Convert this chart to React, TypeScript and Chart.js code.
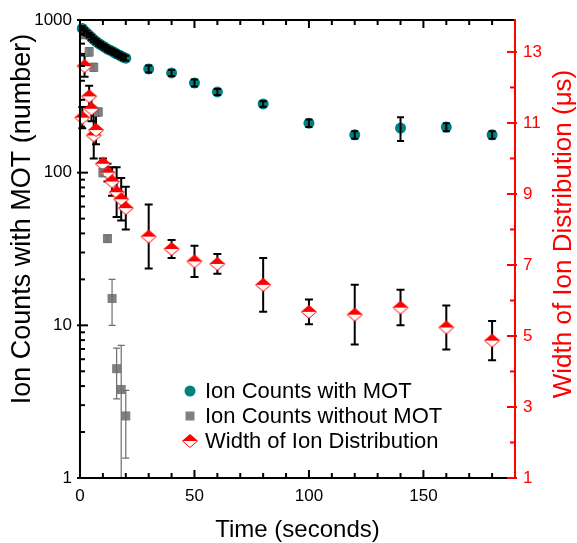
import React, { useEffect, useRef } from 'react';
import { Chart, registerables } from 'chart.js';

Chart.register(...registerables);

// ---------- data ----------
const motTimes = [1, 2, 3, 4, 5, 6, 7, 8, 9, 10, 11, 12, 13, 14, 15, 16, 17, 18, 19, 20, 30, 40, 50, 60, 80, 100, 120, 140, 160, 180];
const motCounts = [880, 850, 820, 795, 770, 745, 725, 705, 690, 675, 660, 645, 635, 625, 612, 600, 590, 580, 570, 562, 478, 450, 387, 338, 282, 211, 177, 196, 199, 177];
const motErrors = [30, 30, 30, 28, 28, 27, 27, 26, 26, 25, 25, 24, 24, 24, 23, 23, 22, 22, 22, 22, 25, 20, 20, 15, 12, 12, 10, 35, 12, 10];

const noMotTimes = [2, 4, 6, 8, 10, 12, 14, 16, 18, 20];
const noMotCounts = [800, 620, 490, 250, 100, 37, 15, 5.2, 3.8, 2.55];
const noMotErrors = [40, 40, 30, 15, 6, 2, 5, 1.9, 3.6, 1.2];

const widthTimes = [1, 2, 4, 5, 6, 7, 10, 12, 14, 16, 18, 20, 30, 40, 50, 60, 80, 100, 120, 140, 160, 180];
const widthValues = [11.15, 12.6, 11.75, 11.4, 10.65, 10.8, 9.85, 9.6, 9.35, 9.05, 8.85, 8.6, 7.8, 7.45, 7.1, 7.03, 6.44, 5.68, 5.6, 5.8, 5.24, 4.87];
const widthErrors = [0.3, 0.3, 0.3, 0.35, 0.65, 0.4, 0.15, 0.25, 0.4, 0.7, 0.6, 0.6, 0.9, 0.25, 0.44, 0.28, 0.76, 0.35, 0.84, 0.5, 0.62, 0.55];

const xTickLabels = ['0', '50', '100', '150'];
const leftTickLabels = ['1', '10', '100', '1000'];
const rightTickLabels = ['1', '3', '5', '7', '9', '11', '13'];

const legendLabels = ['Ion Counts with MOT', 'Ion Counts without MOT', 'Width of Ion Distribution'];
const leftTitle = 'Ion Counts with MOT (number)';
const rightTitle = 'Width of Ion Distribution (\u03bcs)';

const TEAL = '#008080';
const GREY = '#808080';
const RED = '#ff0000';
const FONT = 'Arial, "Liberation Sans", sans-serif';

function diamondPath(ctx: CanvasRenderingContext2D, cx: number, cy: number, hw: number, hh: number) {
  ctx.beginPath();
  ctx.moveTo(cx, cy - hh);
  ctx.lineTo(cx + hw, cy);
  ctx.lineTo(cx, cy + hh);
  ctx.lineTo(cx - hw, cy);
  ctx.closePath();
}

function drawDiamond(ctx: CanvasRenderingContext2D, cx: number, cy: number) {
  const hw = 7.5, hh = 6.5;
  ctx.save();
  ctx.fillStyle = '#ffffff';
  diamondPath(ctx, cx, cy, hw, hh);
  ctx.fill();
  ctx.fillStyle = RED;
  ctx.beginPath();
  ctx.moveTo(cx - hw, cy);
  ctx.lineTo(cx, cy - hh);
  ctx.lineTo(cx + hw, cy);
  ctx.closePath();
  ctx.fill();
  ctx.strokeStyle = RED;
  ctx.lineWidth = 1;
  diamondPath(ctx, cx, cy, hw, hh);
  ctx.stroke();
  ctx.restore();
}

function makeDiamondImage() {
  const c = document.createElement('canvas');
  c.width = 18;
  c.height = 16;
  const ctx = c.getContext('2d')!;
  drawDiamond(ctx, 9, 8);
  return c;
}

function drawErrorBars(chart: any, layer: string) {
  const ctx = chart.ctx as CanvasRenderingContext2D;
  const area = chart.chartArea;
  chart.data.datasets.forEach((ds: any, i: number) => {
    if (ds.errLayer !== layer) return;
    const meta = chart.getDatasetMeta(i);
    const yScale = chart.scales[ds.yAxisID];
    ctx.save();
    ctx.strokeStyle = ds.errColor;
    ctx.lineWidth = ds.errWidth;
    meta.data.forEach((pt: any, j: number) => {
      const v = ds.data[j].y;
      const e = ds.errors[j];
      const x = pt.x;
      const yTop = yScale.getPixelForValue(v + e);
      const lowVal = v - e;
      const capBottom = lowVal > yScale.min;
      const yBot = capBottom ? yScale.getPixelForValue(lowVal) : area.bottom;
      ctx.beginPath();
      ctx.moveTo(x, yTop);
      ctx.lineTo(x, yBot);
      ctx.moveTo(x - ds.capHalf, yTop);
      ctx.lineTo(x + ds.capHalf, yTop);
      if (capBottom) {
        ctx.moveTo(x - ds.capHalf, yBot);
        ctx.lineTo(x + ds.capHalf, yBot);
      }
      ctx.stroke();
    });
    ctx.restore();
  });
}

const errorBarPlugin = {
  id: 'errorBars',
  beforeDatasetsDraw(chart: any) {
    drawErrorBars(chart, 'below');
  },
  afterDatasetsDraw(chart: any) {
    drawErrorBars(chart, 'above');
  },
};

function drawRotated(ctx: CanvasRenderingContext2D, text: string, x: number, y: number, size: number, color: string) {
  ctx.save();
  ctx.fillStyle = color;
  ctx.font = `${size}px ${FONT}`;
  ctx.textAlign = 'center';
  ctx.textBaseline = 'middle';
  ctx.translate(x, y);
  ctx.rotate(-Math.PI / 2);
  ctx.fillText(text, 0, 0);
  ctx.restore();
}

const framePlugin = {
  id: 'frame',
  afterDraw(chart: any) {
    const ctx = chart.ctx as CanvasRenderingContext2D;
    const { left, right, top, bottom } = chart.chartArea;
    const xs = chart.scales.x;
    const yl = chart.scales.y;
    const yr = chart.scales.y2;
    ctx.save();
    ctx.lineCap = 'butt';
    ctx.strokeStyle = '#000';
    ctx.lineWidth = 2;
    for (let t = 0; t <= 190; t += 10) {
      const px = xs.getPixelForValue(t);
      const len = t % 50 === 0 ? 8 : 5;
      ctx.beginPath();
      ctx.moveTo(px, bottom);
      ctx.lineTo(px, bottom - len);
      ctx.moveTo(px, top);
      ctx.lineTo(px, top + len);
      ctx.stroke();
    }
    for (let d = 1; d <= 1000; d *= 10) {
      for (let m = 1; m <= 9; m++) {
        const v = d * m;
        if (v > 1000) break;
        const py = yl.getPixelForValue(v);
        const major = m === 1;
        ctx.beginPath();
        ctx.moveTo(left - (major ? 3 : 0), py);
        ctx.lineTo(left + (major ? 8 : 5), py);
        ctx.stroke();
      }
    }
    ctx.beginPath();
    ctx.moveTo(left, top);
    ctx.lineTo(left, bottom);
    ctx.moveTo(left - 1, bottom);
    ctx.lineTo(right, bottom);
    ctx.moveTo(left - 1, top);
    ctx.lineTo(right, top);
    ctx.stroke();
    ctx.strokeStyle = RED;
    for (let v = 1; v <= 13; v++) {
      const py = yr.getPixelForValue(v);
      const major = v % 2 === 1;
      ctx.beginPath();
      ctx.moveTo(right + (major ? 2 : 0), py);
      ctx.lineTo(right - (major ? 8 : 5), py);
      ctx.stroke();
    }
    ctx.beginPath();
    ctx.moveTo(right, top - 1);
    ctx.lineTo(right, bottom + 1);
    ctx.stroke();
    ctx.restore();

    drawRotated(ctx, leftTitle, 23, 219, 27, '#000');
    drawRotated(ctx, rightTitle, 564, 234, 26, RED);
  },
};

const legendPlugin = {
  id: 'customLegend',
  afterDraw(chart: any) {
    const ctx = chart.ctx as CanvasRenderingContext2D;
    const mx = 190;
    const tx = 205;
    const rows = [391, 416, 441];
    ctx.save();
    ctx.fillStyle = TEAL;
    ctx.beginPath();
    ctx.arc(mx, rows[0], 5.5, 0, Math.PI * 2);
    ctx.fill();
    ctx.fillStyle = GREY;
    ctx.fillRect(mx - 4.5, rows[1] - 4.5, 9, 9);
    drawDiamond(ctx, mx, rows[2]);
    ctx.fillStyle = '#000';
    ctx.font = `22px ${FONT}`;
    ctx.textBaseline = 'middle';
    ctx.textAlign = 'left';
    legendLabels.forEach((l, i) => ctx.fillText(l, tx, rows[i] + 1));
    ctx.restore();
  },
};

export default function App() {
  const ref = useRef<HTMLCanvasElement | null>(null);
  useEffect(() => {
    if (!ref.current) return;
    const diamondImg = makeDiamondImage();
    const chart = new Chart(ref.current, {
      type: 'scatter',
      data: {
        datasets: [
          {
            label: legendLabels[2],
            data: widthTimes.map((t, i) => ({ x: t, y: widthValues[i] })),
            yAxisID: 'y2',
            pointStyle: diamondImg as any,
            pointRadius: 8,
            backgroundColor: RED,
            borderColor: RED,
            clip: false as any,
            errors: widthErrors,
            errColor: '#000',
            errWidth: 2,
            capHalf: 4,
            errLayer: 'below',
            order: 1,
          } as any,
          {
            label: legendLabels[1],
            data: noMotTimes.map((t, i) => ({ x: t, y: noMotCounts[i] })),
            yAxisID: 'y',
            pointStyle: 'rect',
            pointRadius: 6.4,
            backgroundColor: GREY,
            borderColor: GREY,
            borderWidth: 0,
            clip: false as any,
            errors: noMotErrors,
            errColor: '#6e6e6e',
            errWidth: 1.2,
            capHalf: 3.5,
            errLayer: 'above',
            order: 2,
          } as any,
          {
            label: legendLabels[0],
            data: motTimes.map((t, i) => ({ x: t, y: motCounts[i] })),
            yAxisID: 'y',
            pointStyle: 'circle',
            pointRadius: 5.5,
            backgroundColor: TEAL,
            borderColor: TEAL,
            borderWidth: 0,
            clip: false as any,
            errors: motErrors,
            errColor: '#000',
            errWidth: 2,
            capHalf: 3.5,
            errLayer: 'above',
            order: 3,
          } as any,
        ],
      },
      options: {
        responsive: false,
        animation: false,
        events: [],
        layout: { padding: { top: 20, left: 0, right: 0, bottom: 0 } },
        plugins: { legend: { display: false }, tooltip: { enabled: false } },
        scales: {
          x: {
            type: 'linear',
            min: 0,
            max: 190,
            grid: { display: false, drawTicks: false },
            border: { display: false },
            ticks: {
              stepSize: 10,
              autoSkip: false,
              maxRotation: 0,
              padding: 8,
              color: '#000',
              font: { family: FONT, size: 17 },
              callback: (v: any) => {
                const s = String(v);
                return xTickLabels.includes(s) ? s : '';
              },
            },
            title: {
              display: true,
              text: 'Time (seconds)',
              color: '#000',
              font: { family: FONT, size: 24, lineHeight: 1 },
              padding: { top: 0, bottom: 1 },
            },
            afterFit: (s: any) => {
              s.height = 65;
            },
          },
          y: {
            type: 'logarithmic',
            position: 'left',
            min: 1,
            max: 1000,
            grid: { display: false, drawTicks: false },
            border: { display: false },
            ticks: {
              autoSkip: false,
              padding: 8,
              color: '#000',
              font: { family: FONT, size: 17 },
              callback: (v: any) => {
                const s = String(v);
                return leftTickLabels.includes(s) ? s : '';
              },
            },
            title: { display: false },
            afterFit: (s: any) => {
              s.width = 80;
            },
          },
          y2: {
            type: 'linear',
            position: 'right',
            min: 1,
            max: 13.9,
            grid: { display: false, drawTicks: false },
            border: { display: false },
            ticks: {
              stepSize: 1,
              autoSkip: false,
              padding: 8,
              color: RED,
              font: { family: FONT, size: 17 },
              callback: (v: any) => {
                const s = String(v);
                return rightTickLabels.includes(s) ? s : '';
              },
            },
            title: { display: false },
            afterFit: (s: any) => {
              s.width = 62;
            },
          },
        },
      } as any,
      plugins: [errorBarPlugin, framePlugin, legendPlugin],
    });
    return () => chart.destroy();
  }, []);

  return (
    <div style={{ position: 'absolute', left: 0, top: 0, width: 577, height: 543, background: '#fff' }}>
      <canvas ref={ref} width={577} height={543} style={{ display: 'block' }} />
    </div>
  );
}
